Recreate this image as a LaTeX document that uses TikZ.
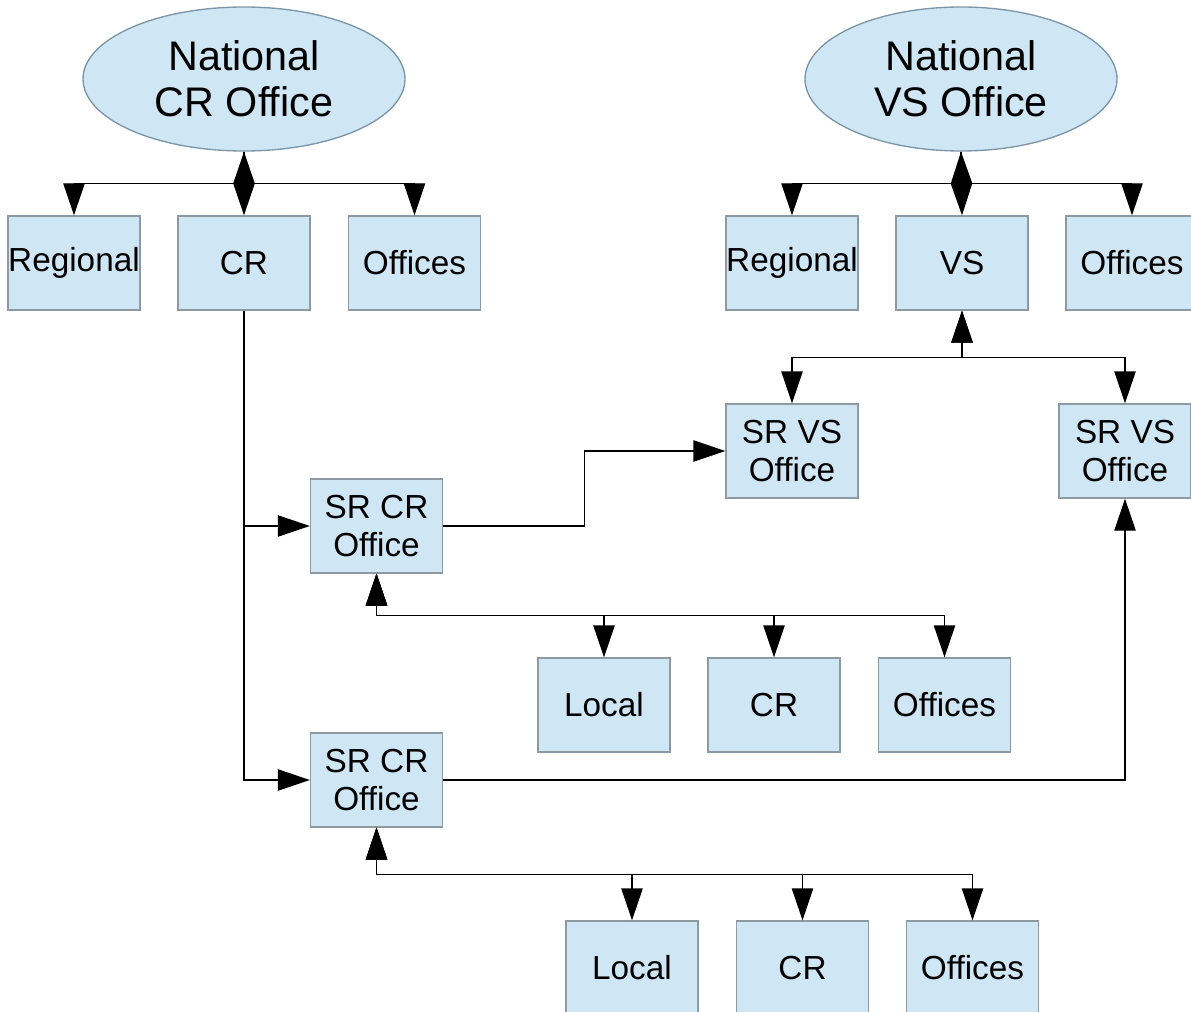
\documentclass[tikz,border=0pt]{standalone}
\usepackage{fontspec}
\setmainfont{Liberation Sans}
\usetikzlibrary{arrows.meta,shapes.geometric}
\definecolor{boxfill}{HTML}{CFE6F4}
\definecolor{boxline}{HTML}{8E9AA3}
\definecolor{elline}{HTML}{7A96A8}
\tikzset{
  box/.style={draw=boxline, line width=1pt, fill=boxfill, rectangle, minimum width=99pt, minimum height=70.5pt, inner sep=0pt, align=center, font=\fontsize{25}{28}\selectfont},
  oval/.style={draw=elline, line width=1pt, fill=boxfill, ellipse, minimum height=108pt, inner sep=0pt, align=center, font=\fontsize{31}{34.5}\selectfont},
  conn/.style={line width=1pt, black},
  tip/.tip={Triangle[length=24pt,width=16pt]},
  arr/.style={conn, -tip},
  both/.style={conn, tip-tip}
}
\begin{document}
\begin{tikzpicture}[x=0.75pt,y=-0.75pt]
\useasboundingbox (0,0) rectangle (1191,1012);
% ellipses
\node[oval, minimum width=241.5pt] (crnat) at (244,79) {National\\CR Office};
\node[oval, minimum width=234pt] (vsnat) at (961,79) {National\\VS Office};
% top row
\node[box] (reg1) at (74,263) {Regional};
\node[box] (cr1) at (244,263) {CR};
\node[box] (off1) at (414.5,263) {Offices};
\node[box] (reg2) at (792,263) {Regional};
\node[box] (vs) at (962,263) {VS};
\node[box] (off2) at (1132,263) {Offices};
% SR offices
\node[box] (srcr1) at (376.5,526) {SR CR\\Office};
\node[box] (srcr2) at (376.5,780) {SR CR\\Office};
\node[box] (srvs1) at (792,451) {SR VS\\Office};
\node[box] (srvs2) at (1125,451) {SR VS\\Office};
% local rows
\node[box] (loc1) at (604,705) {Local};
\node[box] (lcr1) at (774,705) {CR};
\node[box] (loff1) at (944.5,705) {Offices};
\node[box] (loc2) at (632,968) {Local};
\node[box] (lcr2) at (802.5,968) {CR};
\node[box] (loff2) at (972.5,968) {Offices};
% national CR connectors
\draw[arr] (crnat.south) -- ++(0,32) -| (reg1.north);
\draw[arr] (crnat.south) -- ++(0,32) -| (off1.north);
\draw[both] (crnat.south) -- (cr1.north);
% national VS connectors
\draw[arr] (vsnat.south) -- ++(0,32) -| (reg2.north);
\draw[arr] (vsnat.south) -- ++(0,32) -| (off2.north);
\draw[both] (vsnat.south) -- (vs.north);
% CR to SR CR
\draw[arr] (cr1.south) |- (srcr1.west);
\draw[arr] (cr1.south) |- (srcr2.west);
% VS to SR VS
\draw[both] (vs.south) -- ++(0,47) -| (srvs1.north);
\draw[both] (vs.south) -- ++(0,47) -| (srvs2.north);
% SR CR to SR VS
\draw[arr] (srcr1.east) -- ++(141,0) |- (srvs1.west);
\draw[arr] (srcr2.east) -| (srvs2.south);
% SR CR to locals
\draw[both] (srcr1.south) -- ++(0,42) -| (loc1.north);
\draw[both] (srcr1.south) -- ++(0,42) -| (lcr1.north);
\draw[both] (srcr1.south) -- ++(0,42) -| (loff1.north);
\draw[both] (srcr2.south) -- ++(0,47) -| (loc2.north);
\draw[both] (srcr2.south) -- ++(0,47) -| (lcr2.north);
\draw[both] (srcr2.south) -- ++(0,47) -| (loff2.north);
\end{tikzpicture}
\end{document}
